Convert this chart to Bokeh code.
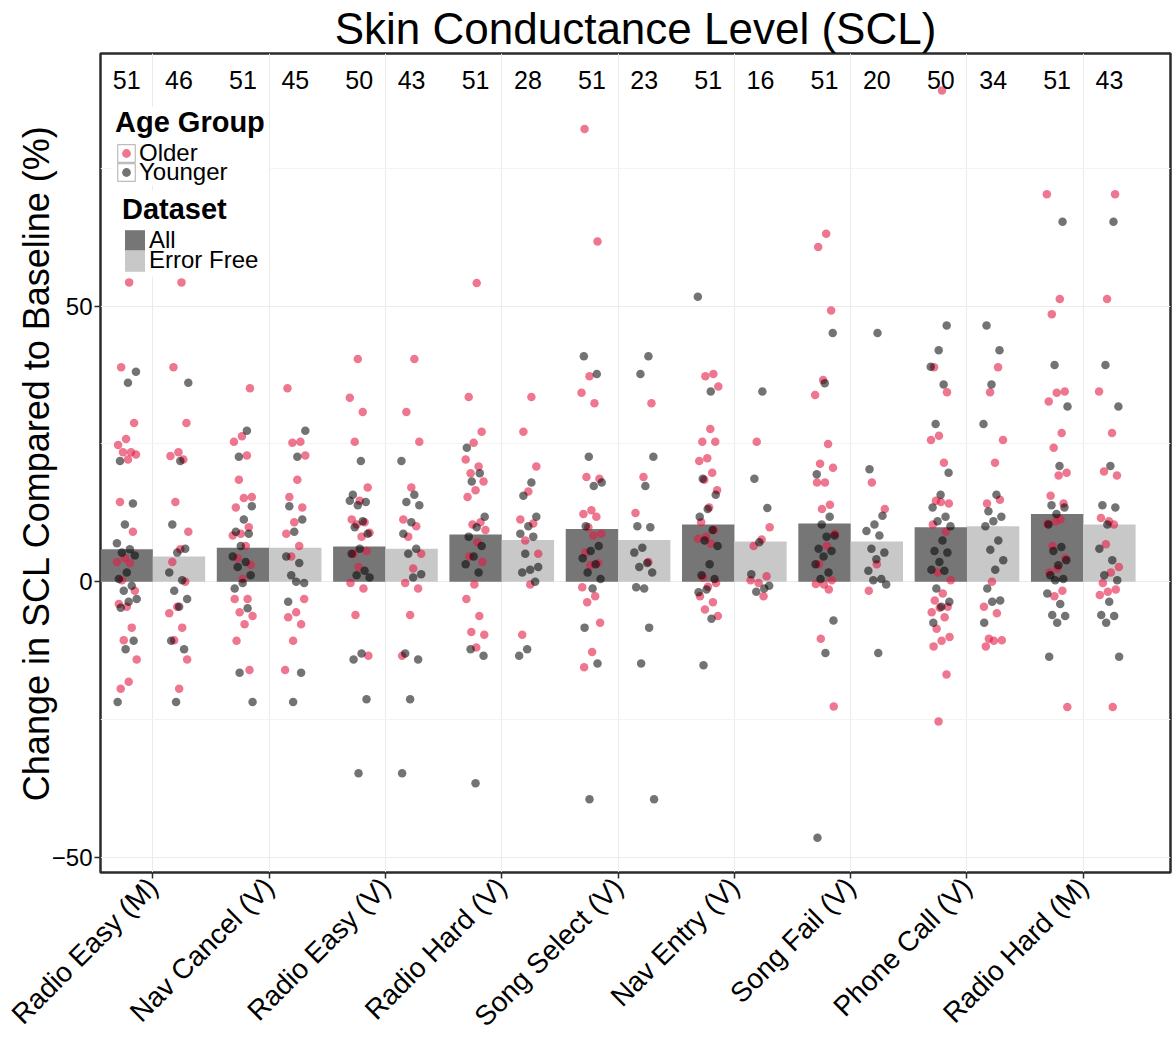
import math
from bokeh.plotting import figure
from bokeh.models import BoxAnnotation, FixedTicker, Legend, LegendItem, Range1d
from bokeh.embed import file_html
from bokeh.resources import INLINE
from bokeh.core.properties import value

# ---- data -------------------------------------------------------------
tasks = ["Radio Easy (M)", "Nav Cancel (V)", "Radio Easy (V)", "Radio Hard (V)",
         "Song Select (V)", "Nav Entry (V)", "Song Fail (V)", "Phone Call (V)",
         "Radio Hard (M)"]

# mean change in SCL (%) per task
mean_all = [5.9, 6.2, 6.4, 8.6, 9.6, 10.4, 10.6, 9.9, 12.3]
mean_error_free = [4.6, 6.2, 6.0, 7.6, 7.6, 7.3, 7.3, 10.1, 10.4]

# number of participants per task and dataset
n_all = [51, 51, 50, 51, 51, 51, 51, 50, 51]
n_error_free = [46, 45, 43, 28, 23, 16, 20, 34, 43]

# individual participants, one inner list per task
older_all = [
    [54.3, 38.9, 28.8, 25.9, 24.8, 23.5, 23.5, 23.1, 22.2, 14.5, 9.1, 4.3, 3.6, 3.4, 0.3, -1.6, -4.5, -4.0, -8.3, -10.6, -14.1, -18.1, -19.4],
    [35.1, 26.4, 25.4, 22.9, 18.5, 15.4, 15.2, 13.5, 9.9, 8.7, 8.4, 6.5, 4.3, 3.1, 0.5, -3.1, -3.1, -5.5, -6.2, -7.7, -10.7, -16.0],
    [40.4, 33.4, 30.8, 25.4, 17.1, 14.7, 11.3, 10.8, 10.4, 8.9, 8.2, 5.1, 5.6, 2.7, -0.2, -1.2, -6.0, -13.4],
    [54.2, 33.5, 27.2, 25.2, 22.2, 20.9, 19.7, 18.2, 16.6, 15.4, 10.8, 10.4, 9.4, 7.2, 4.6, 3.6, -0.5, -3.1, -6.2, -9.1, -9.6, -11.9],
    [82.1, 61.7, 37.3, 34.3, 32.4, 19.0, 18.7, 13.0, 12.3, 11.8, 9.9, 8.7, 8.4, 5.3, 3.4, 3.0, -1.0, -2.6, -3.7, -7.4, -12.7, -15.5],
    [37.7, 37.3, 35.4, 27.7, 25.4, 25.4, 22.4, 21.9, 19.8, 18.5, 16.6, 13.5, 10.8, 9.4, 8.2, 7.8, 6.9, 0.8, -0.2, -0.9, -2.6, -3.7, -5.0, -6.2],
    [63.1, 60.7, 49.2, 36.6, 33.9, 25.0, 21.4, 20.7, 18.0, 18.0, 14.0, 13.2, 8.7, 6.5, 3.2, 0.3, -0.5, -0.4, -1.4, -10.3, -22.6],
    [89.1, 38.9, 34.4, 26.5, 25.7, 21.6, 14.7, 14.2, 14.5, 10.4, 9.1, 1.7, 0.3, -2.1, -3.4, -4.5, -4.7, -5.5, -6.4, -8.5, -10.0, -10.7, -11.7, -16.8, -25.3],
    [70.3, 51.3, 48.5, 34.5, 34.3, 32.7, 27.0, 24.3, 19.8, 19.3, 15.6, 14.2, 11.0, 10.6, 11.3, 6.5, 4.3, 2.4, 1.7, -1.6, -2.6, -22.7],
]
younger_all = [
    [38.1, 36.1, 21.9, 14.2, 10.4, 7.0, 5.9, 5.3, 4.8, 1.7, 0.5, -0.7, -1.6, -3.1, -3.6, -4.7, -10.7, -12.2, -21.8],
    [27.4, 22.7, 13.7, 11.3, 9.1, 8.7, 6.5, 4.6, 3.6, 2.7, 1.2, -0.2, -1.2, -4.8, -16.5, -21.8],
    [21.9, 15.8, 14.5, 13.9, 14.7, 11.0, 9.9, 8.7, 6.0, 5.1, 2.0, 1.2, 0.8, -13.0, -14.1, -21.3, -34.7],
    [24.3, 19.7, 18.2, 11.8, 9.9, 8.2, 6.5, 4.6, 3.2, 1.7, -12.2, -13.4, -36.5],
    [40.9, 37.7, 22.7, 18.0, 17.4, 10.1, 6.5, 5.6, 4.3, 3.2, 1.7, 0.5, -1.2, -8.3, -14.8, -39.4],
    [51.7, 34.5, 18.7, 15.8, 13.2, 11.8, 9.4, 7.5, 6.5, 3.2, 1.2, 0.5, -1.4, -1.9, -6.7, -15.1],
    [45.1, 36.0, 19.5, 11.8, 10.4, 8.4, 8.2, 6.0, 5.6, 4.6, 3.2, 1.7, 0.5, -7.0, -12.9, -46.4],
    [46.5, 42.0, 39.0, 35.8, 28.6, 19.8, 15.8, 13.5, 11.8, 11.0, 10.1, 7.5, 5.6, 5.3, 3.6, 2.2, 2.0, -1.2, -3.6, -4.5, -7.4],
    [65.3, 39.3, 31.8, 21.0, 13.9, 13.5, 12.3, 10.4, 6.3, 5.6, 3.9, 3.0, 1.2, 0.5, 0.3, -2.1, -4.0, -6.0, -6.2, -7.4, -13.6],
]
older_error_free = [
    [54.3, 38.9, 28.8, 23.5, 22.8, 22.2, 14.5, 9.1, 5.9, 3.6, 0.0, -4.5, -5.7, -8.3, -10.6, -14.1, -19.4],
    [35.1, 25.4, 25.2, 22.9, 18.5, 15.4, 13.5, 10.8, 8.7, 6.5, 4.6, -3.1, -5.5, -6.4, -7.7, -10.7, -16.0],
    [40.4, 30.8, 25.4, 17.1, 11.3, 10.1, 8.2, 5.1, 2.4, -0.2, -1.2, -6.0, -13.4],
    [33.5, 27.2, 20.9, 16.4, 11.3, 10.6, 7.5, 5.1, -0.5, -9.6],
    [32.4, 19.0, 12.5, 3.6],
    [25.4, 9.9, 7.7, 6.5, 1.0, -0.2, 0.3, -2.6],
    [18.0, 13.2, 3.2, -1.6],
    [38.9, 34.4, 25.7, 21.6, 14.2, 14.9, 0.0, -4.5, -5.7, -10.3, -10.6, -10.7, -11.7],
    [70.3, 51.3, 34.5, 27.0, 20.0, 19.3, 11.0, 11.6, 10.4, 6.8, 2.7, 1.7, -0.2, -1.4, -1.8, -2.4, -22.7],
]
younger_error_free = [
    [36.1, 21.9, 10.4, 6.0, 5.3, 1.7, 0.3, -1.6, -3.1, -4.5, -10.7, -12.2, -21.8],
    [27.4, 22.7, 13.7, 11.3, 9.1, 4.6, 3.4, 1.2, -0.2, 0.0, -3.6, -16.5, -21.8],
    [21.9, 15.8, 14.5, 13.9, 10.8, 8.7, 6.0, 5.1, 1.4, 0.8, -13.0, -14.1, -21.3, -34.7],
    [18.0, 15.6, 11.8, 10.1, 8.7, 8.2, 5.1, 2.7, 2.2, 1.7, 0.0, -12.2, -13.4],
    [40.9, 37.7, 22.7, 17.4, 10.1, 9.9, 6.2, 5.3, 3.4, 2.7, 1.7, -1.2, -1.0, -8.3, -14.8, -39.4],
    [34.5, 18.7, 13.4, 7.2, 1.4, -1.2, -1.8, -0.7],
    [45.1, 20.4, 12.0, 10.4, 9.2, 8.4, 6.0, 5.3, 4.1, 2.0, 0.5, 0.3, -0.5, -12.9],
    [46.5, 42.0, 35.8, 28.6, 15.8, 12.8, 11.8, 11.0, 10.1, 7.5, 5.8, 3.9, 2.2, -1.2, -3.4, -3.6, -7.4],
    [65.3, 39.3, 31.8, 21.0, 13.9, 13.5, 10.4, 6.0, 3.9, 1.2, 0.3, -3.6, -6.0, -6.2, -7.4, -13.6],
]

# ---- styling -------------------------------------------------------------
FONT = "Liberation Sans"
COL_ALL = "#767676"
COL_EF = "#c8c8c8"
COL_OLDER = "#e31a44"
COL_YOUNGER = "#000000"
DODGE = 0.225       # half of the dodged bar pair width
BAR_W = 0.45
JITTER = 0.18

positions = list(range(1, len(tasks) + 1))
x_all = [c - DODGE for c in positions]
x_ef = [c + DODGE for c in positions]


def jittered(groups, centres, phase):
    """Spread each task's points horizontally around its bar centre."""
    xs, ys = [], []
    k = phase
    for centre, vals in zip(centres, groups):
        for v in vals:
            k += 1
            xs.append(centre + ((k * 0.6180339887) % 1.0 - 0.5) * JITTER)
            ys.append(v)
    return xs, ys


ox1, oy1 = jittered(older_all, x_all, 0)
ox2, oy2 = jittered(older_error_free, x_ef, 0)
yx1, yy1 = jittered(younger_all, x_all, 7)
yx2, yy2 = jittered(younger_error_free, x_ef, 7)

X_RANGE = Range1d(0.55, 9.75)
p = figure(width=1172, height=1046, output_backend="svg", toolbar_location=None,
           x_range=X_RANGE, y_range=Range1d(-52.7, 95.8),
           min_border_left=100, min_border_right=2, min_border_top=53,
           min_border_bottom=173)

p.background_fill_color = "white"
p.border_fill_color = "white"
p.outline_line_color = "#2b2b2b"
p.outline_line_width = 2.5

p.title.text = "Skin Conductance Level (SCL)"
p.title.align = "center"
p.title.text_font = FONT
p.title.text_font_size = "44px"
p.title.text_font_style = "normal"
p.title.text_color = "black"
p.title.standoff = 2

# bars
bar_all = p.vbar(x=x_all, top=mean_all, bottom=0, width=BAR_W,
                 fill_color=COL_ALL, line_color=None)
bar_ef = p.vbar(x=x_ef, top=mean_error_free, bottom=0, width=BAR_W,
                fill_color=COL_EF, line_color=None)

# participants
older_r = p.scatter(x=ox1 + ox2, y=oy1 + oy2, size=8.5, fill_color=COL_OLDER,
                    fill_alpha=0.6, line_color=None)
younger_r = p.scatter(x=yx1 + yx2, y=yy1 + yy2, size=8.5, fill_color=COL_YOUNGER,
                      fill_alpha=0.55, line_color=None)

# participant counts above each bar
p.text(x=x_all + x_ef, y=[91] * (len(x_all) + len(x_ef)),
       text=[str(n) for n in n_all + n_error_free],
       text_align="center", text_baseline="middle",
       text_font=value(FONT), text_font_size="25px", text_color="black")

# axes
tick_y = FixedTicker(ticks=[-50, 0, 50], minor_ticks=[-75, -25, 25, 75])
tick_x = FixedTicker(ticks=positions, minor_ticks=[])
p.yaxis.ticker = tick_y
p.xaxis.ticker = tick_x
p.ygrid.ticker = tick_y
p.xgrid.ticker = tick_x
p.xaxis.major_label_overrides = {c: t for c, t in zip(positions, tasks)}
p.xaxis.major_label_orientation = math.pi / 4

for ax in (p.xaxis, p.yaxis):
    ax.axis_line_color = None
    ax.major_tick_line_color = "#2b2b2b"
    ax.major_tick_line_width = 1.5
    ax.major_tick_out = 6
    ax.major_tick_in = 0
    ax.minor_tick_out = 0
    ax.minor_tick_in = 0
    ax.major_label_text_font = FONT
    ax.major_label_text_color = "black"

p.xaxis.major_label_standoff = 4
p.yaxis.major_label_standoff = 2
p.xaxis.major_label_text_font_size = "28px"
p.yaxis.major_label_text_font_size = "24px"
p.yaxis.axis_label = "Change in SCL Compared to Baseline (%)"
p.yaxis.axis_label_text_font = FONT
p.yaxis.axis_label_text_font_size = "36px"
p.yaxis.axis_label_text_font_style = "normal"
p.yaxis.axis_label_text_color = "black"
p.yaxis.axis_label_standoff = -8

p.xgrid.grid_line_color = "#ebebeb"
p.ygrid.grid_line_color = "#ebebeb"
p.ygrid.minor_grid_line_color = "#f4f4f4"

# boxed key behind the age-group dots; its single rect sits left of the
# visible x range so only the legend shows it
key_box = p.rect(x=[X_RANGE.start - 1], y=[0], width=0.1, height=1,
                 fill_color="white", line_color="#bdbdbd", line_width=1.2)

# white panels behind the two legend blocks (canvas pixels)
for l, r, t, b in [(113, 268, 106, 185), (121, 262, 190, 276)]:
    p.add_layout(BoxAnnotation(left=l, right=r, top=t, bottom=b,
                               left_units="canvas", right_units="canvas",
                               top_units="canvas", bottom_units="canvas",
                               fill_color="white", fill_alpha=1.0,
                               line_color=None))


def make_legend(title, label, renderers, loc, glyph_w=22, glyph_h=22):
    lg = Legend(items=[LegendItem(label=label, renderers=renderers)], location=loc)
    if title:
        lg.title = title
    lg.title_text_font = FONT
    lg.title_text_font_style = "bold"
    lg.title_text_font_size = "29px"
    lg.title_text_color = "black"
    lg.title_standoff = 0
    lg.label_text_font = FONT
    lg.label_text_font_size = "24px"
    lg.label_text_color = "black"
    lg.glyph_width = glyph_w
    lg.glyph_height = glyph_h
    lg.label_height = 18
    lg.label_standoff = 2
    lg.spacing = 0
    lg.padding = 4
    lg.margin = 0
    lg.border_line_color = None
    lg.background_fill_alpha = 0.0
    p.add_layout(lg, "center")
    return lg


make_legend("Age Group", "Older", [key_box, older_r], (15, 705))
make_legend(None, "Younger", [key_box, younger_r], (15, 686))
make_legend("Dataset", "All", [bar_all], (22, 618), 25, 27)
make_legend(None, "Error Free", [bar_ef], (22, 598), 25, 27)

open("out.html", "w").write(file_html(p, INLINE))
